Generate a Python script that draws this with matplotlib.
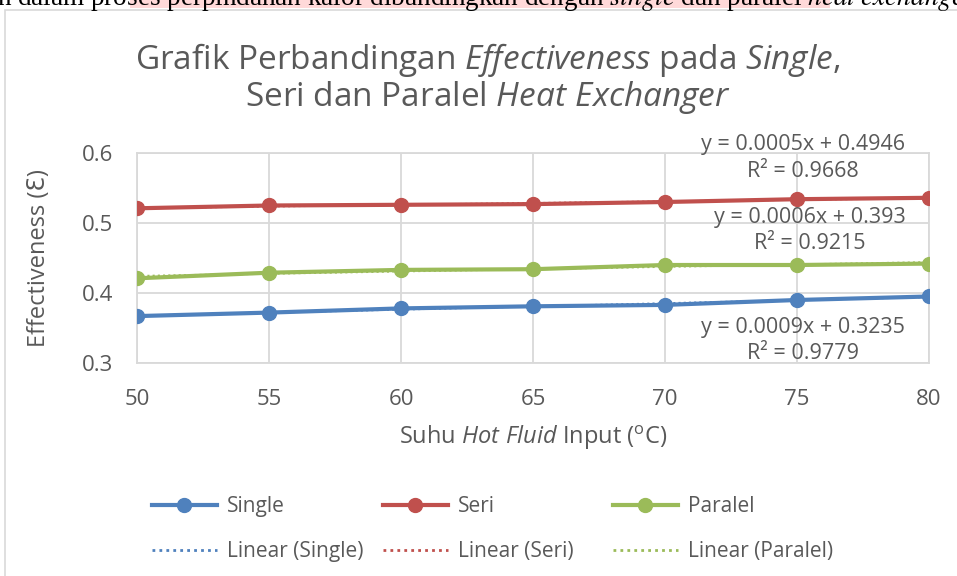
import numpy as np
import matplotlib
matplotlib.use('Agg')
import matplotlib.pyplot as plt
from matplotlib.lines import Line2D
from matplotlib.patches import Rectangle

plt.rcParams['font.family'] = ['Open Sans', 'DejaVu Sans']
plt.rcParams['mathtext.fontset'] = 'custom'
plt.rcParams['mathtext.rm'] = 'Open Sans'
plt.rcParams['mathtext.it'] = 'Open Sans:italic'

# data
suhu = [50, 55, 60, 65, 70, 75, 80]
single = [0.367, 0.372, 0.378, 0.381, 0.383, 0.390, 0.395]
seri = [0.521, 0.525, 0.526, 0.527, 0.530, 0.534, 0.536]
paralel = [0.421, 0.429, 0.433, 0.434, 0.440, 0.440, 0.442]
persamaan = ['y = 0.0009x + 0.3235\nR² = 0.9779',
             'y = 0.0005x + 0.4946\nR² = 0.9668',
             'y = 0.0006x + 0.393\nR² = 0.9215']

warna = ['#4f81bd', '#c0504d', '#9bbb59']
abu = '#595959'

fig = plt.figure(figsize=(9.57, 5.76), dpi=100)
ax = fig.add_axes([137/957, 1-363/576, 792/957, 210/576])

# chart border + leftover document text above it
fig.patches.append(Rectangle((5/957, -0.1), 1.1, 1.1 - 10/576, transform=fig.transFigure,
                             fill=False, edgecolor='#d9d9d9', lw=1.2))
fig.patches.append(Rectangle((130/957, 1 - 8/576), 700/957, 8/576, transform=fig.transFigure,
                             facecolor='#ffd9d9', edgecolor='none'))
fig.text(-0.003, 1 - 5/576,
         r'n dalam proses perpindahan kalor dibandingkan dengan $\mathit{single}$ dan paralel $\mathit{heat\ exchanger}$',
         fontsize=19.5, family='Liberation Serif', va='baseline', ha='left', color='black',
         math_fontfamily='stix')

x = np.array(suhu)
nama = ['Single', 'Seri', 'Paralel']
kolom = []
for data, c, n in zip([single, seri, paralel], warna, nama):
    ax.plot(x, data, color=c, lw=3, marker='o', ms=10, zorder=3)
    m, b = np.polyfit(x, data, 1)
    ax.plot(x, m * x + b, color=c, lw=1.5, ls=(0, (1, 1.5)), zorder=2)
    kolom.append([Line2D([], [], color=c, lw=3, marker='o', ms=10, label=n),
                  Line2D([], [], color=c, lw=2, ls=(0, (1, 1.5)), label='Linear (%s)' % n)])

# trendline equations
posisi = [(75.23, 0.3321), (75.23, 0.5929), (75.47, 0.4893)]
for (px, py), teks in zip(posisi, persamaan):
    ax.text(px, py, teks, ha='center', va='center', fontsize=15.5, color=abu,
            linespacing=1.33, clip_on=False, zorder=4)

ax.set_xlim(50, 80)
ax.set_ylim(0.3, 0.6)
ax.set_xticks([50, 55, 60, 65, 70, 75, 80])
ax.set_yticks([0.3, 0.4, 0.5, 0.6])
ax.set_yticklabels(['0.3', '0.4', '0.5', '0.6'])
ax.grid(True, color='#d9d9d9', lw=1.3)
ax.set_axisbelow(True)
for s in ax.spines.values():
    s.set_color('#d9d9d9')
    s.set_linewidth(1.3)
ax.tick_params(length=0, labelsize=16, labelcolor=abu)
ax.tick_params(axis='x', pad=19)
ax.tick_params(axis='y', pad=17)

ax.set_xlabel(r'Suhu $\mathit{Hot\ Fluid}$ Input ($^{\mathrm{o}}$C)', fontsize=17, color=abu, labelpad=10)
ax.set_ylabel('Effectiveness (Ɛ)', fontsize=17, color=abu, labelpad=22)

fig.text(488/957, 1-60/576,
         r'Grafik Perbandingan $\mathit{Effectiveness}$ pada $\mathit{Single}$,',
         ha='center', va='center', fontsize=24, color=abu)
fig.text(488/957, 1-98/576,
         r'Seri dan Paralel $\mathit{Heat\ Exchanger}$',
         ha='center', va='center', fontsize=24, color=abu)

# one legend per column so the columns sit evenly like Excel's
for x0, h in zip([152, 383, 613], kolom):
    fig.legend(handles=h, loc='center left', bbox_to_anchor=(x0/957, 1-529/576),
               frameon=False, fontsize=15, labelcolor=abu, handlelength=3.1,
               handletextpad=0.5, labelspacing=1.15, borderpad=0, borderaxespad=0)

fig.savefig('out.png', dpi=100)
